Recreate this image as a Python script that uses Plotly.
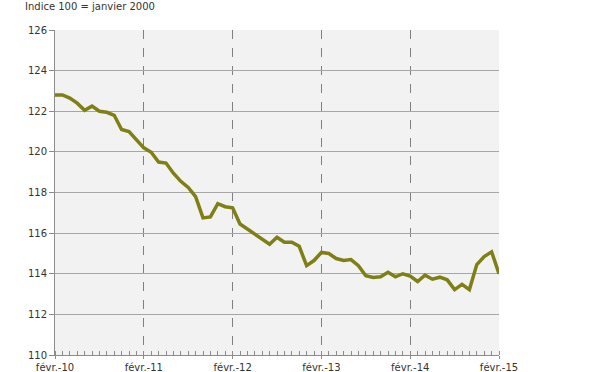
import plotly.graph_objects as go
import pandas as pd

months = [d.strftime("%Y-%m") for d in pd.date_range("2010-02-01", "2015-02-01", freq="MS")]
values = [
    122.80, 122.80, 122.65, 122.40, 122.05, 122.25, 122.00, 121.95, 121.80, 121.10, 121.00, 120.60,
    120.20, 119.98, 119.50, 119.45, 118.95, 118.55, 118.25, 117.80, 116.75, 116.80, 117.45, 117.30,
    117.25, 116.45, 116.20, 115.90, 115.65, 115.45, 115.80, 115.55, 115.55, 115.35, 114.40, 114.65,
    115.05, 115.00, 114.75, 114.65, 114.70, 114.40, 113.90, 113.82, 113.85, 114.07, 113.85, 114.00,
    113.88, 113.62, 113.93, 113.73, 113.83, 113.70, 113.22, 113.48, 113.22, 114.45, 114.85, 115.08,
    114.00,
]
tick_labels = ["févr.-10", "févr.-11", "févr.-12", "févr.-13", "févr.-14", "févr.-15"]
y_ticks = [110, 112, 114, 116, 118, 120, 122, 124, 126]
title_text = "Indice 100 = janvier 2000"

x_idx = list(range(len(months)))

fig = go.Figure()
fig.add_trace(go.Scatter(
    x=x_idx, y=values, mode="lines",
    line=dict(color="#7f7f16", width=3.5),
    customdata=months, hovertemplate="%{customdata}: %{y}<extra></extra>",
))

font_family = "DejaVu Sans"
fig.update_layout(
    width=600, height=372,
    margin=dict(l=55, r=101, t=30, b=17),
    paper_bgcolor="white",
    plot_bgcolor="#f2f2f2",
    showlegend=False,
    font=dict(family=font_family, size=10, color="#333333"),
    xaxis=dict(
        range=[0, len(months) - 1],
        tickmode="array",
        tickvals=[0, 12, 24, 36, 48, 60],
        ticktext=tick_labels,
        showgrid=True, gridcolor="#808080", griddash="dash", gridwidth=1,
        ticks="outside", ticklen=3, tickcolor="#8c8c8c",
        showline=True, linecolor="#8c8c8c", linewidth=1,
        minor=dict(dtick=1, tick0=0, ticks="inside", ticklen=4, tickcolor="#8c8c8c", showgrid=False),
        zeroline=False, fixedrange=True, automargin=False,
    ),
    yaxis=dict(
        range=[110, 126],
        tickmode="array", tickvals=y_ticks,
        showgrid=True, gridcolor="#a6a6a6", gridwidth=1,
        ticks="outside", ticklen=5, tickcolor="#8c8c8c",
        showline=True, linecolor="#8c8c8c", linewidth=1,
        zeroline=False, fixedrange=True, automargin=False,
    ),
    annotations=[dict(
        text=title_text, xref="paper", yref="paper",
        x=-0.072, y=1.05, xanchor="left", yanchor="bottom",
        showarrow=False, font=dict(family=font_family, size=10, color="#333333"),
    )],
)

fig.write_html("out.html")
